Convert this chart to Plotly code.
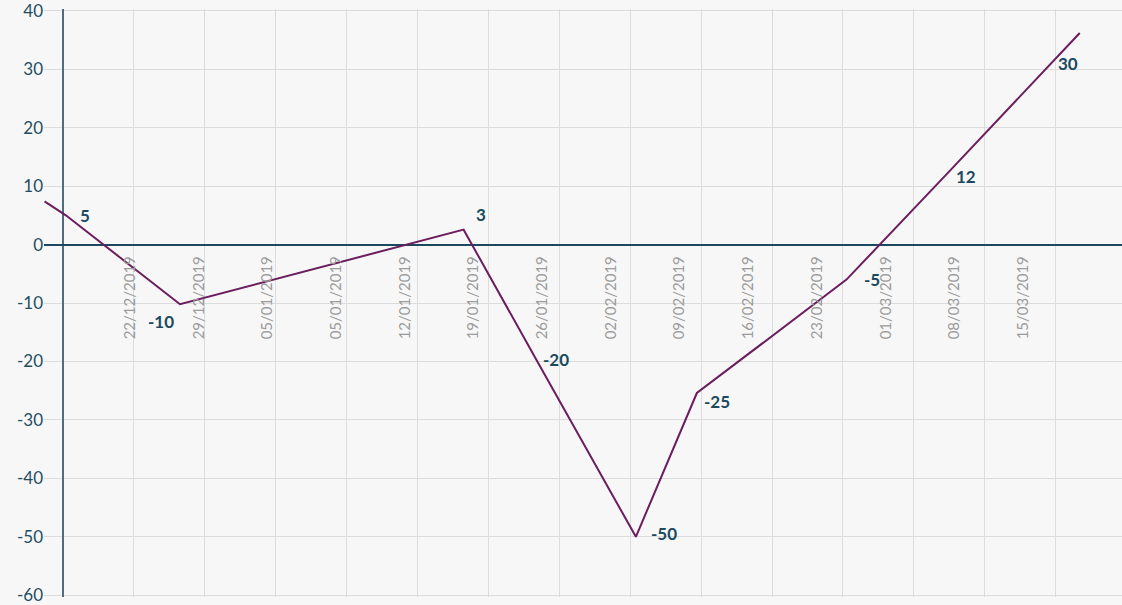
import plotly.graph_objects as go

# ---- data ----
week_pos = [-0.26, 0.04, 1.65, 5.65, 6.69, 8.08, 8.94, 11.05, 12.46, 13.86, 14.34]
values = [7.4, 5, -10.2, 2.55, -20, -50, -25.4, -6, 12, 30, 36.2]
point_labels = ['', '5', '-10', '3', '-20', '-50', '-25', '-5', '12', '30', '']
date_labels = ['22/12/2019', '29/12/2019', '05/01/2019', '05/01/2019', '12/01/2019',
               '19/01/2019', '26/01/2019', '02/02/2019', '09/02/2019', '16/02/2019',
               '23/02/2019', '01/03/2019', '08/03/2019', '15/03/2019']
date_label_pos = list(range(1, 15))
y_ticks = list(range(-60, 41, 10))
y_tick_text = [str(v) for v in y_ticks]

# ---- styles ----
label_shift = {'5': (19, 0), '-10': (-19, -17), '3': (17, 15), '-20': (19, 2),
               '-50': (28, 3), '-25': (20, -8), '-5': (26, 0), '12': (20, -2), '30': (22, 6)}
LINE = '#6b1d5e'
DARK = '#1b4a5e'
BG = '#f7f7f7'
GRID = '#dcdcdc'

fig = go.Figure()
fig.add_trace(go.Scatter(x=week_pos, y=values, mode='lines',
                         line=dict(color=LINE, width=2), hoverinfo='skip', showlegend=False))
# dummy trace so the date-label axis is drawn
fig.add_trace(go.Scatter(x=date_label_pos, y=[0] * len(date_label_pos), xaxis='x2', yaxis='y',
                         mode='none', hoverinfo='skip', showlegend=False))

annotations = []
for xv, yv, lab in zip(week_pos, values, point_labels):
    if not lab:
        continue
    dx, dy = label_shift[lab]
    annotations.append(dict(x=xv, y=yv, xref='x', yref='y', text=f'<b>{lab}</b>', showarrow=False,
                            xanchor='center', yanchor='middle', xshift=dx, yshift=dy,
                            font=dict(family='Lato', size=17, color=DARK)))

fig.update_layout(
    width=1122, height=605,
    margin=dict(l=44, r=0, t=7.7, b=6.3),
    paper_bgcolor=BG, plot_bgcolor=BG,
    font=dict(family='Lato'),
    showlegend=False,
    annotations=annotations,
    xaxis=dict(range=[-0.268, 14.936], tickmode='linear', tick0=0, dtick=1,
               showticklabels=False, showgrid=True, gridcolor=GRID, gridwidth=1,
               zeroline=True, zerolinecolor='#4f6d7d', zerolinewidth=2, showline=False),
    xaxis2=dict(overlaying='x', anchor='free', position=0.6, side='bottom',
                range=[-0.252, 15.44], tickmode='array', tickvals=date_label_pos, ticktext=date_labels,
                tickangle=-90, tickfont=dict(family='Lato', size=15, color='#9b9b9b'),
                ticklabelstandoff=8,
                showgrid=False, zeroline=False, showline=False, ticks=''),
    yaxis=dict(range=[-60.3, 40.3], tickmode='array', tickvals=y_ticks, ticktext=y_tick_text,
               tickfont=dict(family='Lato', size=17, color='#1f4e63'),
               ticklabeloverflow='allow',
               showgrid=True, gridcolor=GRID, gridwidth=1,
               zeroline=True, zerolinecolor=DARK, zerolinewidth=1.5, showline=False, ticks=''),
)

fig.write_html('out.html')
